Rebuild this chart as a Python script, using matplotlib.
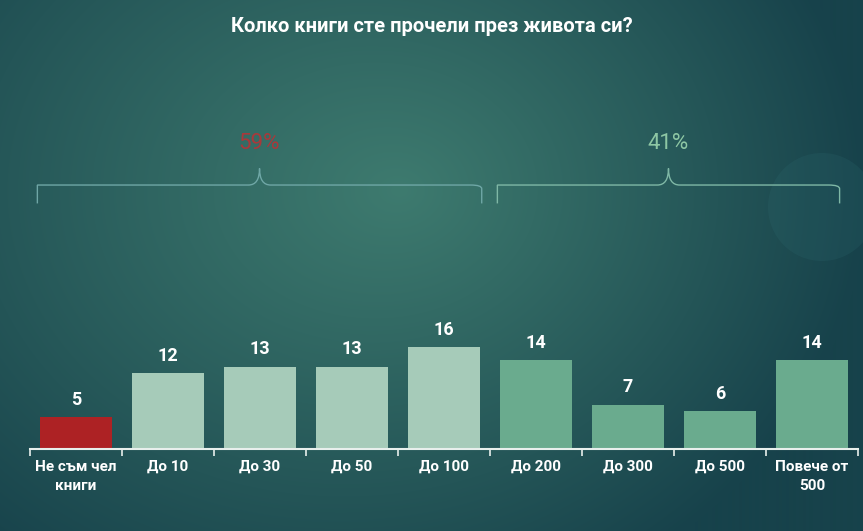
import numpy as np
import matplotlib
matplotlib.use('Agg')
import matplotlib.pyplot as plt
from matplotlib.path import Path
from matplotlib.patches import PathPatch, Circle

plt.rcParams['font.family'] = ['Roboto', 'DejaVu Sans']

# ------------------------------ data
title = 'Колко книги сте прочели през живота си?'
categories = ['Не съм чел\nкниги', 'До 10', 'До 30', 'До 50', 'До 100',
              'До 200', 'До 300', 'До 500', 'Повече от\n500']
values = [5, 12, 13, 13, 16, 14, 7, 6, 14]
bar_colors = ['#ad2224', '#a6cbb9', '#a6cbb9', '#a6cbb9', '#a6cbb9',
              '#6aab8e', '#6aab8e', '#6aab8e', '#6aab8e']
groups = [(0, 4), (5, 8)]
group_labels = ['59%', '41%']
group_colors = ['#a8393b', '#8ec7a4']

W, H = 863, 531
fig = plt.figure(figsize=(W / 100, H / 100), dpi=100)

# ------------------------------ background
bg = fig.add_axes([0, 0, 1, 1])
yy, xx = np.mgrid[0:H, 0:W]
d = np.sqrt(((xx - 400) / 620.0) ** 2 + ((yy - 190) / 480.0) ** 2)
d = np.clip(d + 0.25 * (xx / W) ** 2, 0, 1)
c_in = np.array([0x40, 0x7e, 0x71]) / 255
c_out = np.array([0x17, 0x42, 0x4b]) / 255
img = c_in[None, None, :] * (1 - d[..., None]) + c_out[None, None, :] * d[..., None]
bg.imshow(img, extent=[0, W, H, 0], aspect='auto')
bg.add_patch(Circle((822, 207), 54, color='#2f6c72', alpha=0.2, lw=0))
bg.set_xlim(0, W)
bg.set_ylim(H, 0)
bg.axis('off')

# ------------------------------ bars
ax = fig.add_axes([30 / W, 1 - 449 / H, 828 / W, 349 / H])
ax.patch.set_alpha(0)
x = np.arange(len(categories))
ax.bar(x, values, width=0.78, color=bar_colors)
for xi, v in zip(x, values):
    ax.text(xi, v + 1.3, str(v), ha='center', va='bottom', color='white',
            fontsize=13, fontweight='bold')

ax.set_xlim(-0.5, len(categories) - 0.5)
ax.set_ylim(0, 55)
ax.set_xticks(x)
ax.set_xticklabels(categories, color='white', fontsize=11, fontweight='bold',
                   linespacing=1.4)
ax.set_xticks(np.arange(-0.5, len(categories)), minor=True)
ax.tick_params(axis='x', which='major', length=0, pad=8)
ax.tick_params(axis='x', which='minor', length=5, width=1.2, color='#e8efec',
               direction='out')
ax.set_yticks([])
for s in ['top', 'right', 'left']:
    ax.spines[s].set_visible(False)
ax.spines['bottom'].set_color('#e8efec')
ax.spines['bottom'].set_linewidth(1.5)


def brace(ax, x0, x1, y, h, color):
    xm = (x0 + x1) / 2
    k = 0.12
    verts = [(x0, y - h), (x0, y - h * 0.2), (x0, y), (x0 + k, y),
             (xm - k, y), (xm, y), (xm, y + h * 0.9),
             (xm, y), (xm + k, y),
             (x1 - k, y), (x1, y), (x1, y - h * 0.2), (x1, y - h)]
    codes = [Path.MOVETO, Path.CURVE3, Path.CURVE3, Path.LINETO,
             Path.LINETO, Path.CURVE3, Path.CURVE3,
             Path.CURVE3, Path.CURVE3,
             Path.LINETO, Path.CURVE3, Path.CURVE3, Path.LINETO]
    ax.add_patch(PathPatch(Path(verts, codes), fill=False, ec=color, lw=1.0,
                           clip_on=False))


for (a, b), lab, col in zip(groups, group_labels, group_colors):
    x0 = a - 0.42
    x1 = b + (0.41 if a == 0 else 0.3)
    brace(ax, x0, x1, 41.6, 2.9, '#7fb8a6' if a else '#6fa7a6')
    ax.text((x0 + x1) / 2, 48.2, lab, ha='center', va='center', color=col,
            fontsize=16)

fig.text(0.5, 1 - 27 / H, title, ha='center', va='center', color='white',
         fontsize=14.5, fontweight='bold')

fig.savefig('out.png', dpi=100)
